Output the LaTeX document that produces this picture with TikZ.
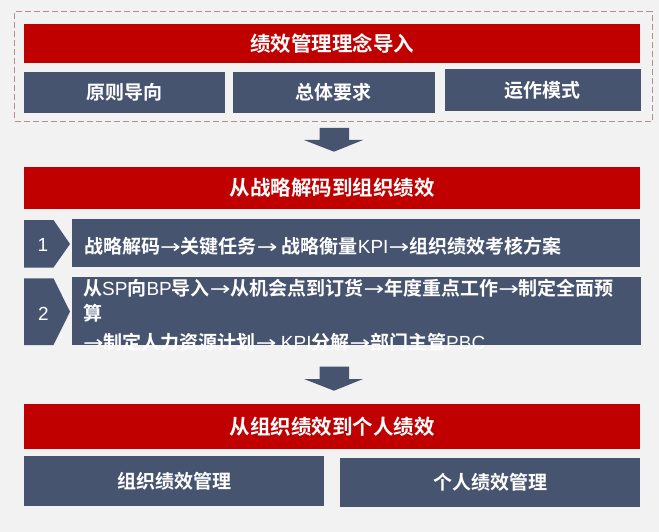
\documentclass[tikz,border=0pt]{standalone}
\usepackage{fontspec}
\setmainfont{Noto Sans CJK SC}[BoldFont={Noto Sans CJK SC Bold}]
\newfontfamily\lat{Liberation Sans}
\newfontfamily\symb{DejaVu Sans}
\usetikzlibrary{positioning}
\definecolor{barred}{HTML}{C00000}
\definecolor{boxblue}{HTML}{475470}
\definecolor{bggray}{HTML}{F2F2F2}
\definecolor{framered}{HTML}{B38C8C}
\newcommand\lx[1]{{\lat\mdseries #1}}
\newcommand\toarr{\scalebox{1.3}[1]{\symb\mdseries →}}

\begin{document}
\begin{tikzpicture}[x=1pt,y=-1pt]
\tikzstyle{title}=[fill=barred,text=white,font=\bfseries\fontsize{20.5}{24}\selectfont,inner sep=0pt,minimum width=616pt]
\tikzstyle{item}=[fill=boxblue,text=white,font=\bfseries\fontsize{19}{23}\selectfont,inner sep=0pt]
\tikzstyle{stepline}=[text=white,font=\bfseries\fontsize{19}{23}\selectfont,inner sep=0pt,anchor=base west]
\tikzstyle{num}=[text=white,font=\lat\fontsize{19}{21}\selectfont,inner sep=0pt]
\tikzstyle{down}=[fill=boxblue]
  \fill[bggray] (0,0) rectangle (659,532);
  \useasboundingbox (0,0) rectangle (659,532);
  \node[draw=framered,line width=.8pt,dash pattern=on 6pt off 3pt,minimum width=637.7pt,minimum height=109.3pt,inner sep=0pt] (frame) at (333.5,66.3) {};
  \node[title,minimum height=39.3pt] (t1) at (332,43.7) {绩效管理理念导入};
  \node[item,minimum width=201pt,minimum height=40.7pt] (b11) at (124.5,92.3) {原则导向};
  \node[item,minimum width=201.6pt,minimum height=40.7pt] (b12) at (333.8,92.3) {总体要求};
  \node[item,minimum width=195.6pt,minimum height=41.4pt] (b13) at (542.8,90) {运作模式};
  \fill[down] (319.5,128) -- (349,128) -- (349,140) -- (363,140) -- (334,151.7) -- (304,140) -- (319.5,140) -- cycle;
  \node[title,minimum height=42.3pt] (t2) at (332,187.8) {从战略解码到组织绩效};
  \fill[down] (24,220) -- (53.5,220) -- (70,244) -- (53.5,267.5) -- (24,267.5) -- cycle;
  \node[num] (n1) at (43,245) {1};
  \node[item,minimum width=568.5pt,minimum height=47.7pt] (s1) at (355.75,242.85) {};
  \node[stepline] (s1a) at (84,253.5) {战略解码\toarr 关键任务\toarr\ 战略衡量\lx{KPI}\toarr 组织绩效考核方案};
  \fill[down] (24,278.3) -- (53.5,278.3) -- (70,311.7) -- (53.5,345) -- (24,345) -- cycle;
  \node[num] (n2) at (43.5,314) {2};
  \node[item,minimum width=568.3pt,minimum height=68.3pt] (s2) at (356.45,310.85) {};
  \node[stepline] (s2a) at (83,295.5) {从\lx{SP}向\lx{BP}导入\toarr 从机会点到订货\toarr 年度重点工作\toarr 制定全面预};
  \node[stepline] (s2b) at (83,320) {算};
  \node[stepline] (s2c) at (83,349) {\toarr 制定人力资源计划\toarr\ \lx{KPI}分解\toarr 部门主管\lx{PBC}};
  \fill[down] (319.5,366.7) -- (349,366.7) -- (349,379) -- (363,379) -- (334,390.7) -- (304,379) -- (319.5,379) -- cycle;
  \node[title,minimum height=45pt] (t3) at (332,426.5) {从组织绩效到个人绩效};
  \node[item,minimum width=300pt,minimum height=49.7pt] (b31) at (174,480.85) {组织绩效管理};
  \node[item,minimum width=300pt,minimum height=48.7pt] (b32) at (490,482.35) {个人绩效管理};
\end{tikzpicture}
\end{document}
